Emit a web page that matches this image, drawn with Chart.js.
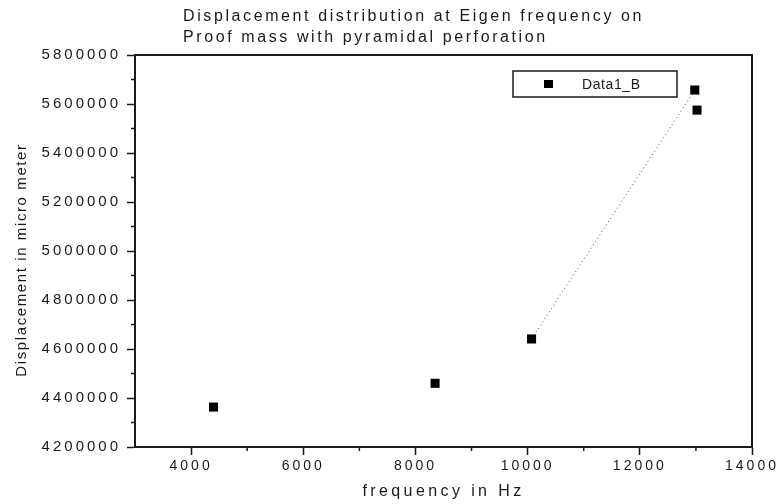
<!DOCTYPE html>
<html>
<head>
<meta charset="utf-8">
<script src="https://cdn.jsdelivr.net/npm/chart.js@4.4.0/dist/chart.umd.min.js"></script>
<style>
    html, body { margin: 0; padding: 0; background: #fff; }
</style>
</head>
<body>
<canvas id="myChart" width="778" height="504"></canvas>
<script>
// values
const frequency = [4400, 8350, 10070, 12980, 13020]
const displacement = [4363000, 4460000, 4641000, 5657000, 5575000]
const seriesLabel = 'Data1_B'

const xTicks = [4000, 6000, 8000, 10000, 12000, 14000]
const xMinor = [5000, 7000, 9000, 11000, 13000]
const yTicks = [4200000, 4400000, 4600000, 4800000, 5000000, 5200000, 5400000, 5600000, 5800000]
const yMinor = [4300000, 4500000, 4700000, 4900000, 5100000, 5300000, 5500000, 5700000]

const titleLines = ['Displacement distribution at Eigen frequency on', 'Proof mass with pyramidal perforation']
const xTitle = 'frequency in Hz'
const yTitle = 'Displacement in micro meter'

const ink = '#1a1a1a'
const font = '"Liberation Sans", Arial, sans-serif'

// Origin style text is wide, so spread the letters a bit
const decor = {
    id: 'decor',
    beforeUpdate(chart) { chart.ctx.letterSpacing = '3px' },
    beforeDraw(chart) { chart.ctx.letterSpacing = '3px' },
    afterDraw(chart) {
        const ctx = chart.ctx
        const a = chart.chartArea
        const xs = chart.scales.x
        const ys = chart.scales.y
        ctx.save()

        // top and right frame
        ctx.strokeStyle = ink
        ctx.lineWidth = 2
        ctx.beginPath()
        ctx.moveTo(a.left, a.top)
        ctx.lineTo(a.right, a.top)
        ctx.lineTo(a.right, a.bottom)
        ctx.stroke()

        // minor ticks
        ctx.lineWidth = 1.5
        ctx.beginPath()
        xMinor.forEach(v => {
            const px = xs.getPixelForValue(v)
            ctx.moveTo(px, a.bottom)
            ctx.lineTo(px, a.bottom + 4)
        })
        yMinor.forEach(v => {
            const py = ys.getPixelForValue(v)
            ctx.moveTo(a.left - 4, py)
            ctx.lineTo(a.left, py)
        })
        ctx.stroke()

        ctx.fillStyle = ink
        ctx.textBaseline = 'middle'

        // chart title, two left aligned lines
        ctx.font = '16px ' + font
        ctx.letterSpacing = '2.6px'
        ctx.textAlign = 'left'
        titleLines.forEach((t, i) => ctx.fillText(t, 183, 17 + i * 21))

        // x title
        ctx.letterSpacing = '3.4px'
        ctx.textAlign = 'center'
        ctx.fillText(xTitle, (a.left + a.right) / 2, 492)

        // y title
        ctx.save()
        ctx.translate(22, 260)
        ctx.rotate(-Math.PI / 2)
        ctx.font = '15px ' + font
        ctx.letterSpacing = '1.6px'
        ctx.fillText(yTitle, 0, 0)
        ctx.restore()

        // legend box
        ctx.lineWidth = 1.5
        ctx.strokeStyle = ink
        ctx.strokeRect(513, 71, 164, 26)
        ctx.fillStyle = '#000'
        ctx.fillRect(544, 80, 9, 8)
        ctx.fillStyle = ink
        ctx.font = '14px ' + font
        ctx.letterSpacing = '0.6px'
        ctx.textAlign = 'left'
        ctx.fillText(seriesLabel, 582, 85)

        ctx.restore()
    }
}

const ctx = document.getElementById('myChart').getContext('2d')
const myChart = new Chart(ctx, {
    type: 'scatter',
    data: {
        datasets: [{
            label: seriesLabel,
            data: frequency.map((f, i) => ({ x: f, y: displacement[i] })),
            pointStyle: 'rect',
            pointRadius: 6.4,
            pointHoverRadius: 6.4,
            backgroundColor: '#000',
            borderColor: '#000',
            pointBorderWidth: 0,
            showLine: true,
            borderWidth: 1,
            borderDash: [1, 3],
            // only the 3rd -> 4th point is joined in the reference
            segment: {
                borderColor: c => c.p0DataIndex === 2 ? '#555' : 'rgba(0,0,0,0)'
            }
        }]
    },
    options: {
        responsive: false,
        animation: false,
        events: [],
        layout: { padding: { top: 55, right: 26, left: 0, bottom: 0 } },
        plugins: {
            legend: { display: false },
            title: { display: false },
            tooltip: { enabled: false }
        },
        scales: {
            x: {
                type: 'linear',
                min: 3000,
                max: 14000,
                afterBuildTicks: s => { s.ticks = xTicks.map(v => ({ value: v })) },
                afterFit: s => {
                    s.height = 57
                    s.paddingLeft = 0
                    s.paddingRight = 0
                },
                border: { color: ink, width: 2 },
                grid: { drawOnChartArea: false, drawTicks: true, tickLength: 8, tickColor: ink, tickWidth: 1.5 },
                ticks: {
                    color: ink,
                    font: { family: font, size: 14 },
                    padding: 3,
                    maxRotation: 0,
                    callback: v => String(v)
                }
            },
            y: {
                type: 'linear',
                min: 4200000,
                max: 5800000,
                afterBuildTicks: s => { s.ticks = yTicks.map(v => ({ value: v })) },
                afterFit: s => {
                    s.width = 135
                    s.paddingTop = 0
                    s.paddingBottom = 0
                },
                border: { color: ink, width: 2 },
                grid: { drawOnChartArea: false, drawTicks: true, tickLength: 8, tickColor: ink, tickWidth: 1.5 },
                ticks: {
                    color: ink,
                    font: { family: font, size: 15 },
                    padding: 6,
                    callback: v => String(v)
                }
            }
        }
    },
    plugins: [decor]
})
</script>
</body>
</html>
